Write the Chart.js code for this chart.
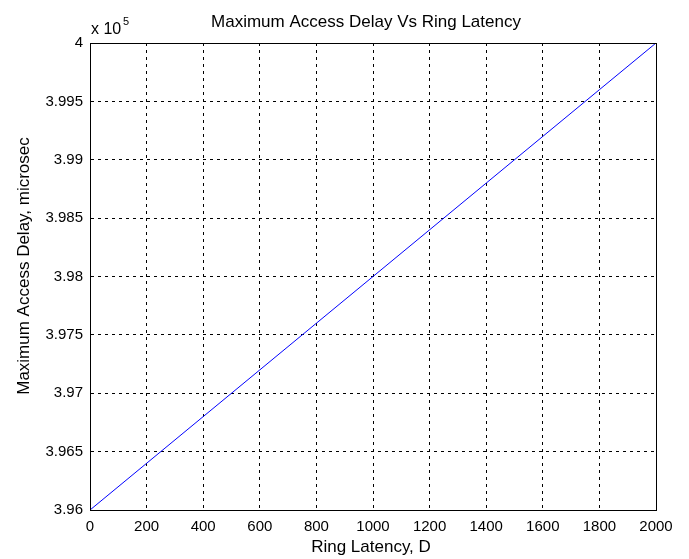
<!DOCTYPE html>
<html lang="en">
<head>
  <meta charset="UTF-8">
  <title>Maximum Access Delay Vs Ring Latency</title>
  <script src="https://cdn.jsdelivr.net/npm/chart.js"></script>
  <style>
    html, body {
      margin: 0;
      padding: 0;
      background: #ffffff;
    }
  </style>
</head>
<body>
  <canvas id="delayChart" width="689" height="559"></canvas>

  <script>
    // Data (delay in microsec, shown with an x 10^5 multiplier)
    const ringLatency = [0, 200, 400, 600, 800, 1000, 1200, 1400, 1600, 1800, 2000];
    const accessDelay = [396000, 396400, 396800, 397200, 397600, 398000, 398400, 398800, 399200, 399600, 400000];
    const xTicks = [0, 200, 400, 600, 800, 1000, 1200, 1400, 1600, 1800, 2000];
    const yTicks = [396000, 396500, 397000, 397500, 398000, 398500, 399000, 399500, 400000];

    const chartTitle = 'Maximum Access Delay Vs Ring Latency';
    const xTitle = 'Ring Latency, D';
    const yTitle = 'Maximum Access Delay, microsec';

    const tickFont = { family: 'Liberation Sans, Arial, sans-serif', size: 15 };
    const textFont = '17px "Liberation Sans", Arial, sans-serif';

    // Titles, the x 10^5 multiplier and the box round the axes
    const matlabFrame = {
      id: 'matlabFrame',
      afterDraw(chart) {
        const { ctx, chartArea } = chart;
        const l = Math.floor(chartArea.left) + 0.5;
        const r = Math.floor(chartArea.right) + 0.5;
        const t = Math.floor(chartArea.top) + 0.5;
        const b = Math.floor(chartArea.bottom) + 0.5;
        ctx.save();
        ctx.strokeStyle = '#000';
        ctx.lineWidth = 1;
        ctx.beginPath();
        ctx.moveTo(l, t);
        ctx.lineTo(r, t);
        ctx.lineTo(r, b);
        ctx.lineTo(l, b);
        ctx.closePath();
        ctx.stroke();

        ctx.fillStyle = '#000';
        ctx.font = textFont;
        ctx.textAlign = 'center';
        ctx.textBaseline = 'middle';
        ctx.fillText(chartTitle, 366, 22);
        ctx.fillText(xTitle, 371, 547);

        ctx.save();
        ctx.translate(24, 266);
        ctx.rotate(-Math.PI / 2);
        ctx.fillText(yTitle, 0, 0);
        ctx.restore();

        ctx.textAlign = 'left';
        ctx.textBaseline = 'alphabetic';
        ctx.font = '16px "Liberation Sans", Arial, sans-serif';
        ctx.fillText('x 10', chartArea.left + 1, 34);
        ctx.font = '11px "Liberation Sans", Arial, sans-serif';
        ctx.fillText('5', chartArea.left + 33, 25);
        ctx.restore();
      }
    };

    const ctx = document.getElementById('delayChart').getContext('2d');
    new Chart(ctx, {
      type: 'line',
      data: {
        datasets: [{
          label: 'Maximum Access Delay',
          data: ringLatency.map((x, i) => ({ x: x, y: accessDelay[i] })),
          borderColor: '#0000ff',
          borderWidth: 1,
          pointRadius: 0,
          fill: false,
          tension: 0
        }]
      },
      options: {
        responsive: false,
        animation: false,
        layout: {
          padding: { top: 43, right: 33, left: 0, bottom: 0 }
        },
        plugins: {
          legend: { display: false },
          title: { display: false },
          tooltip: { enabled: false }
        },
        scales: {
          x: {
            type: 'linear',
            min: 0,
            max: 2000,
            afterFit(scale) { scale.height = 49; },
            afterBuildTicks(scale) { scale.ticks = xTicks.map(v => ({ value: v })); },
            ticks: {
              color: '#000',
              font: tickFont,
              padding: 8,
              maxRotation: 0,
              autoSkip: false,
              callback: v => String(v)
            },
            grid: {
              color: '#000',
              lineWidth: 1,
              drawTicks: false
            },
            border: {
              display: true,
              color: '#000',
              width: 1,
              dash: [3, 4]
            }
          },
          y: {
            type: 'linear',
            min: 396000,
            max: 400000,
            afterFit(scale) { scale.width = 90; },
            afterBuildTicks(scale) { scale.ticks = yTicks.map(v => ({ value: v })); },
            ticks: {
              color: '#000',
              font: tickFont,
              padding: 7,
              autoSkip: false,
              callback: v => String(parseFloat((v / 1e5).toFixed(3)))
            },
            grid: {
              color: '#000',
              lineWidth: 1,
              drawTicks: false
            },
            border: {
              display: true,
              color: '#000',
              width: 1,
              dash: [3, 4]
            }
          }
        }
      },
      plugins: [matlabFrame]
    });
  </script>
</body>
</html>
